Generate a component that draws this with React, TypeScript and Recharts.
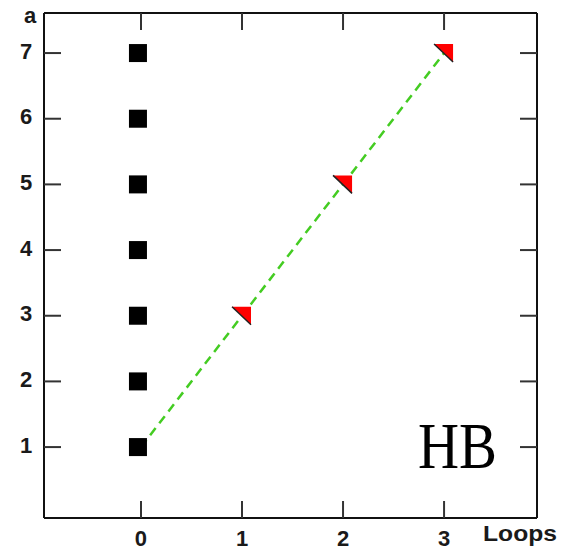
import React from 'react';
import { ComposedChart, Scatter, XAxis, YAxis, Customized, Label } from 'recharts';

// Data
const squareLoops = [-0.03, -0.03, -0.03, -0.03, -0.03, -0.03, -0.03];
const squareA = [1, 2, 3, 4, 5, 6, 7];
const triangleLoops = [1, 2, 3];
const triangleA = [3, 5, 7];
const lineLoops = [0, 1, 2, 3];
const lineA = [1, 3, 5, 7];
const xTicks = [0, 1, 2, 3];
const yTicks = [1, 2, 3, 4, 5, 6, 7];

const squares = squareLoops.map((x, i) => ({ x, y: squareA[i] }));
const triangles = triangleLoops.map((x, i) => ({ x, y: triangleA[i] }));
const lineData = lineLoops.map((x, i) => ({ x, y: lineA[i] }));

const FONT = "'Liberation Sans', Arial, sans-serif";
const FS = 22;
const TICK_LEN = 17;
const TICK_COLOR = '#333';
const AXIS_COLOR = '#111';
const TEXT_COLOR = '#1a1a1a';

const BottomTick = (props: any) => {
  const { x, y, payload } = props;
  return (
    <g>
      <line x1={x} y1={y} x2={x} y2={y - TICK_LEN} stroke={TICK_COLOR} strokeWidth={2} />
      <text x={x} y={y + 20} textAnchor="middle" dominantBaseline="central" fontFamily={FONT} fontWeight="bold" fontSize={FS} fill={TEXT_COLOR}>
        {payload.value}
      </text>
    </g>
  );
};
const TopTick = (props: any) => {
  const { x, y } = props;
  return <line x1={x} y1={y} x2={x} y2={y + TICK_LEN} stroke={TICK_COLOR} strokeWidth={2} />;
};
const LeftTick = (props: any) => {
  const { x, y, payload } = props;
  return (
    <g>
      <line x1={x} y1={y} x2={x + TICK_LEN} y2={y} stroke={TICK_COLOR} strokeWidth={2} />
      <text x={x - 18} y={y - 2} textAnchor="middle" dominantBaseline="central" fontFamily={FONT} fontWeight="bold" fontSize={FS} fill={TEXT_COLOR}>
        {payload.value}
      </text>
    </g>
  );
};
const RightTick = (props: any) => {
  const { x, y } = props;
  return <line x1={x} y1={y} x2={x - TICK_LEN} y2={y} stroke={TICK_COLOR} strokeWidth={2} />;
};

const SquareShape = (props: any) => {
  const { cx, cy } = props;
  return <rect x={cx - 9} y={cy - 9} width={18} height={18} fill="#000" />;
};
const TriangleShape = (props: any) => {
  const { cx, cy } = props;
  return (
    <g>
      <path d={`M${cx - 10},${cy - 9} L${cx + 9},${cy - 9} L${cx + 9},${cy + 9} Z`} fill="#ff0000" />
      <line x1={cx - 10} y1={cy - 9} x2={cx + 9} y2={cy + 9} stroke="#222" strokeWidth={1.5} />
    </g>
  );
};
const NoShape = () => <g />;

const HBText = () => (
  <text x={418} y={468} fontFamily="'Liberation Serif', 'Times New Roman', serif" fontSize={66} fill="#000" textLength={79} lengthAdjust="spacingAndGlyphs">
    HB
  </text>
);

export default function App() {
  return (
    <div style={{ position: 'absolute', left: 0, top: 0 }}>
      <ComposedChart width={582} height={549} margin={{ top: 12, right: 44, bottom: 30, left: 43 }}>
        <XAxis xAxisId="bottom" type="number" dataKey="x" domain={[-0.96, 3.92]} allowDataOverflow ticks={xTicks}
          height={1} tickSize={0} tickMargin={0} tickLine={false} axisLine={{ stroke: AXIS_COLOR, strokeWidth: 2 }} tick={<BottomTick />} interval={0}>
          <Label content={() => (
            <text x={483} y={541} fontFamily={FONT} fontWeight="bold" fontSize={FS} fill={TEXT_COLOR} textLength={74} lengthAdjust="spacingAndGlyphs">Loops</text>
          )} />
        </XAxis>
        <XAxis xAxisId="top" orientation="top" type="number" dataKey="x" domain={[-0.96, 3.92]} allowDataOverflow ticks={xTicks}
          height={1} tickSize={0} tickMargin={0} tickLine={false} axisLine={{ stroke: AXIS_COLOR, strokeWidth: 2 }} tick={<TopTick />} interval={0} />
        <YAxis yAxisId="left" type="number" dataKey="y" domain={[-0.08, 7.61]} allowDataOverflow ticks={yTicks}
          width={1} tickSize={0} tickMargin={0} tickLine={false} axisLine={{ stroke: AXIS_COLOR, strokeWidth: 2 }} tick={<LeftTick />} interval={0}>
          <Label content={() => (
            <text x={30} y={23} textAnchor="middle" fontFamily={FONT} fontWeight="bold" fontSize={FS} fill={TEXT_COLOR}>a</text>
          )} />
        </YAxis>
        <YAxis yAxisId="right" orientation="right" type="number" dataKey="y" domain={[-0.08, 7.61]} allowDataOverflow ticks={yTicks}
          width={1} tickSize={0} tickMargin={0} tickLine={false} axisLine={{ stroke: AXIS_COLOR, strokeWidth: 2 }} tick={<RightTick />} interval={0} />
        <Scatter xAxisId="bottom" yAxisId="left" data={lineData} dataKey="y" isAnimationActive={false}
          line={{ stroke: '#44cc22', strokeWidth: 2.5, strokeDasharray: '9 6' }} shape={<NoShape />} />
        <Scatter xAxisId="bottom" yAxisId="left" data={squares} dataKey="y" isAnimationActive={false} shape={<SquareShape />} />
        <Scatter xAxisId="bottom" yAxisId="left" data={triangles} dataKey="y" isAnimationActive={false} shape={<TriangleShape />} />
        <Customized component={HBText} />
      </ComposedChart>
    </div>
  );
}
